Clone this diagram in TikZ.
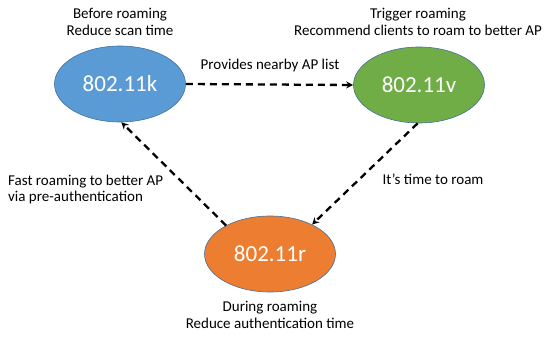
\documentclass[tikz,border=0pt]{standalone}
\usepackage{fontspec}
\setmainfont{Carlito}
\usetikzlibrary{shapes.geometric,arrows.meta}
\definecolor{obl}{HTML}{5B9BD5}
\definecolor{ogr}{HTML}{70AD47}
\definecolor{oor}{HTML}{ED7D31}
\definecolor{oline}{HTML}{41719C}
\tikzset{
  std/.style={ellipse,draw=oline,line width=0.6pt,minimum width=131pt,minimum height=76pt,inner sep=0pt,text=white,font=\fontsize{23}{27}\selectfont},
  lbl/.style={font=\fontsize{15}{17}\selectfont,align=center,inner sep=0pt,anchor=base},
  conn/.style={line width=2.3pt,dash pattern=on 7pt off 5pt,-{Stealth[length=7pt,width=7pt]}}
}
\begin{document}
\begin{tikzpicture}[x=1pt,y=-1pt]
\useasboundingbox (0,0) rectangle (550,337);
\node[std,fill=obl] (k) at (120,84) {802.11k};
\node[std,fill=ogr] (v) at (419,85) {802.11v};
\node[std,fill=oor] (r) at (270,254) {802.11r};
\node[lbl] (kt) at (120,36) {Before roaming\\Reduce scan time};
\node[lbl] (vt) at (418,36) {Trigger roaming\\Recommend clients to roam to better AP};
\node[lbl] (rt) at (270,328) {During roaming\\Reduce authentication time};
\node[lbl] (l1) at (270,70) {Provides nearby AP list};
\node[lbl] (l2) at (433,185) {It’s time to roam};
\node[lbl,align=left,anchor=base west] (l3) at (8,202) {Fast roaming to better AP\\via pre-authentication};
\draw[conn] (k.east) -- (v.west);
\draw[conn] (v.-92) -- (r.35);
\draw[conn] (r.147) -- (k.-88);
\end{tikzpicture}
\end{document}
